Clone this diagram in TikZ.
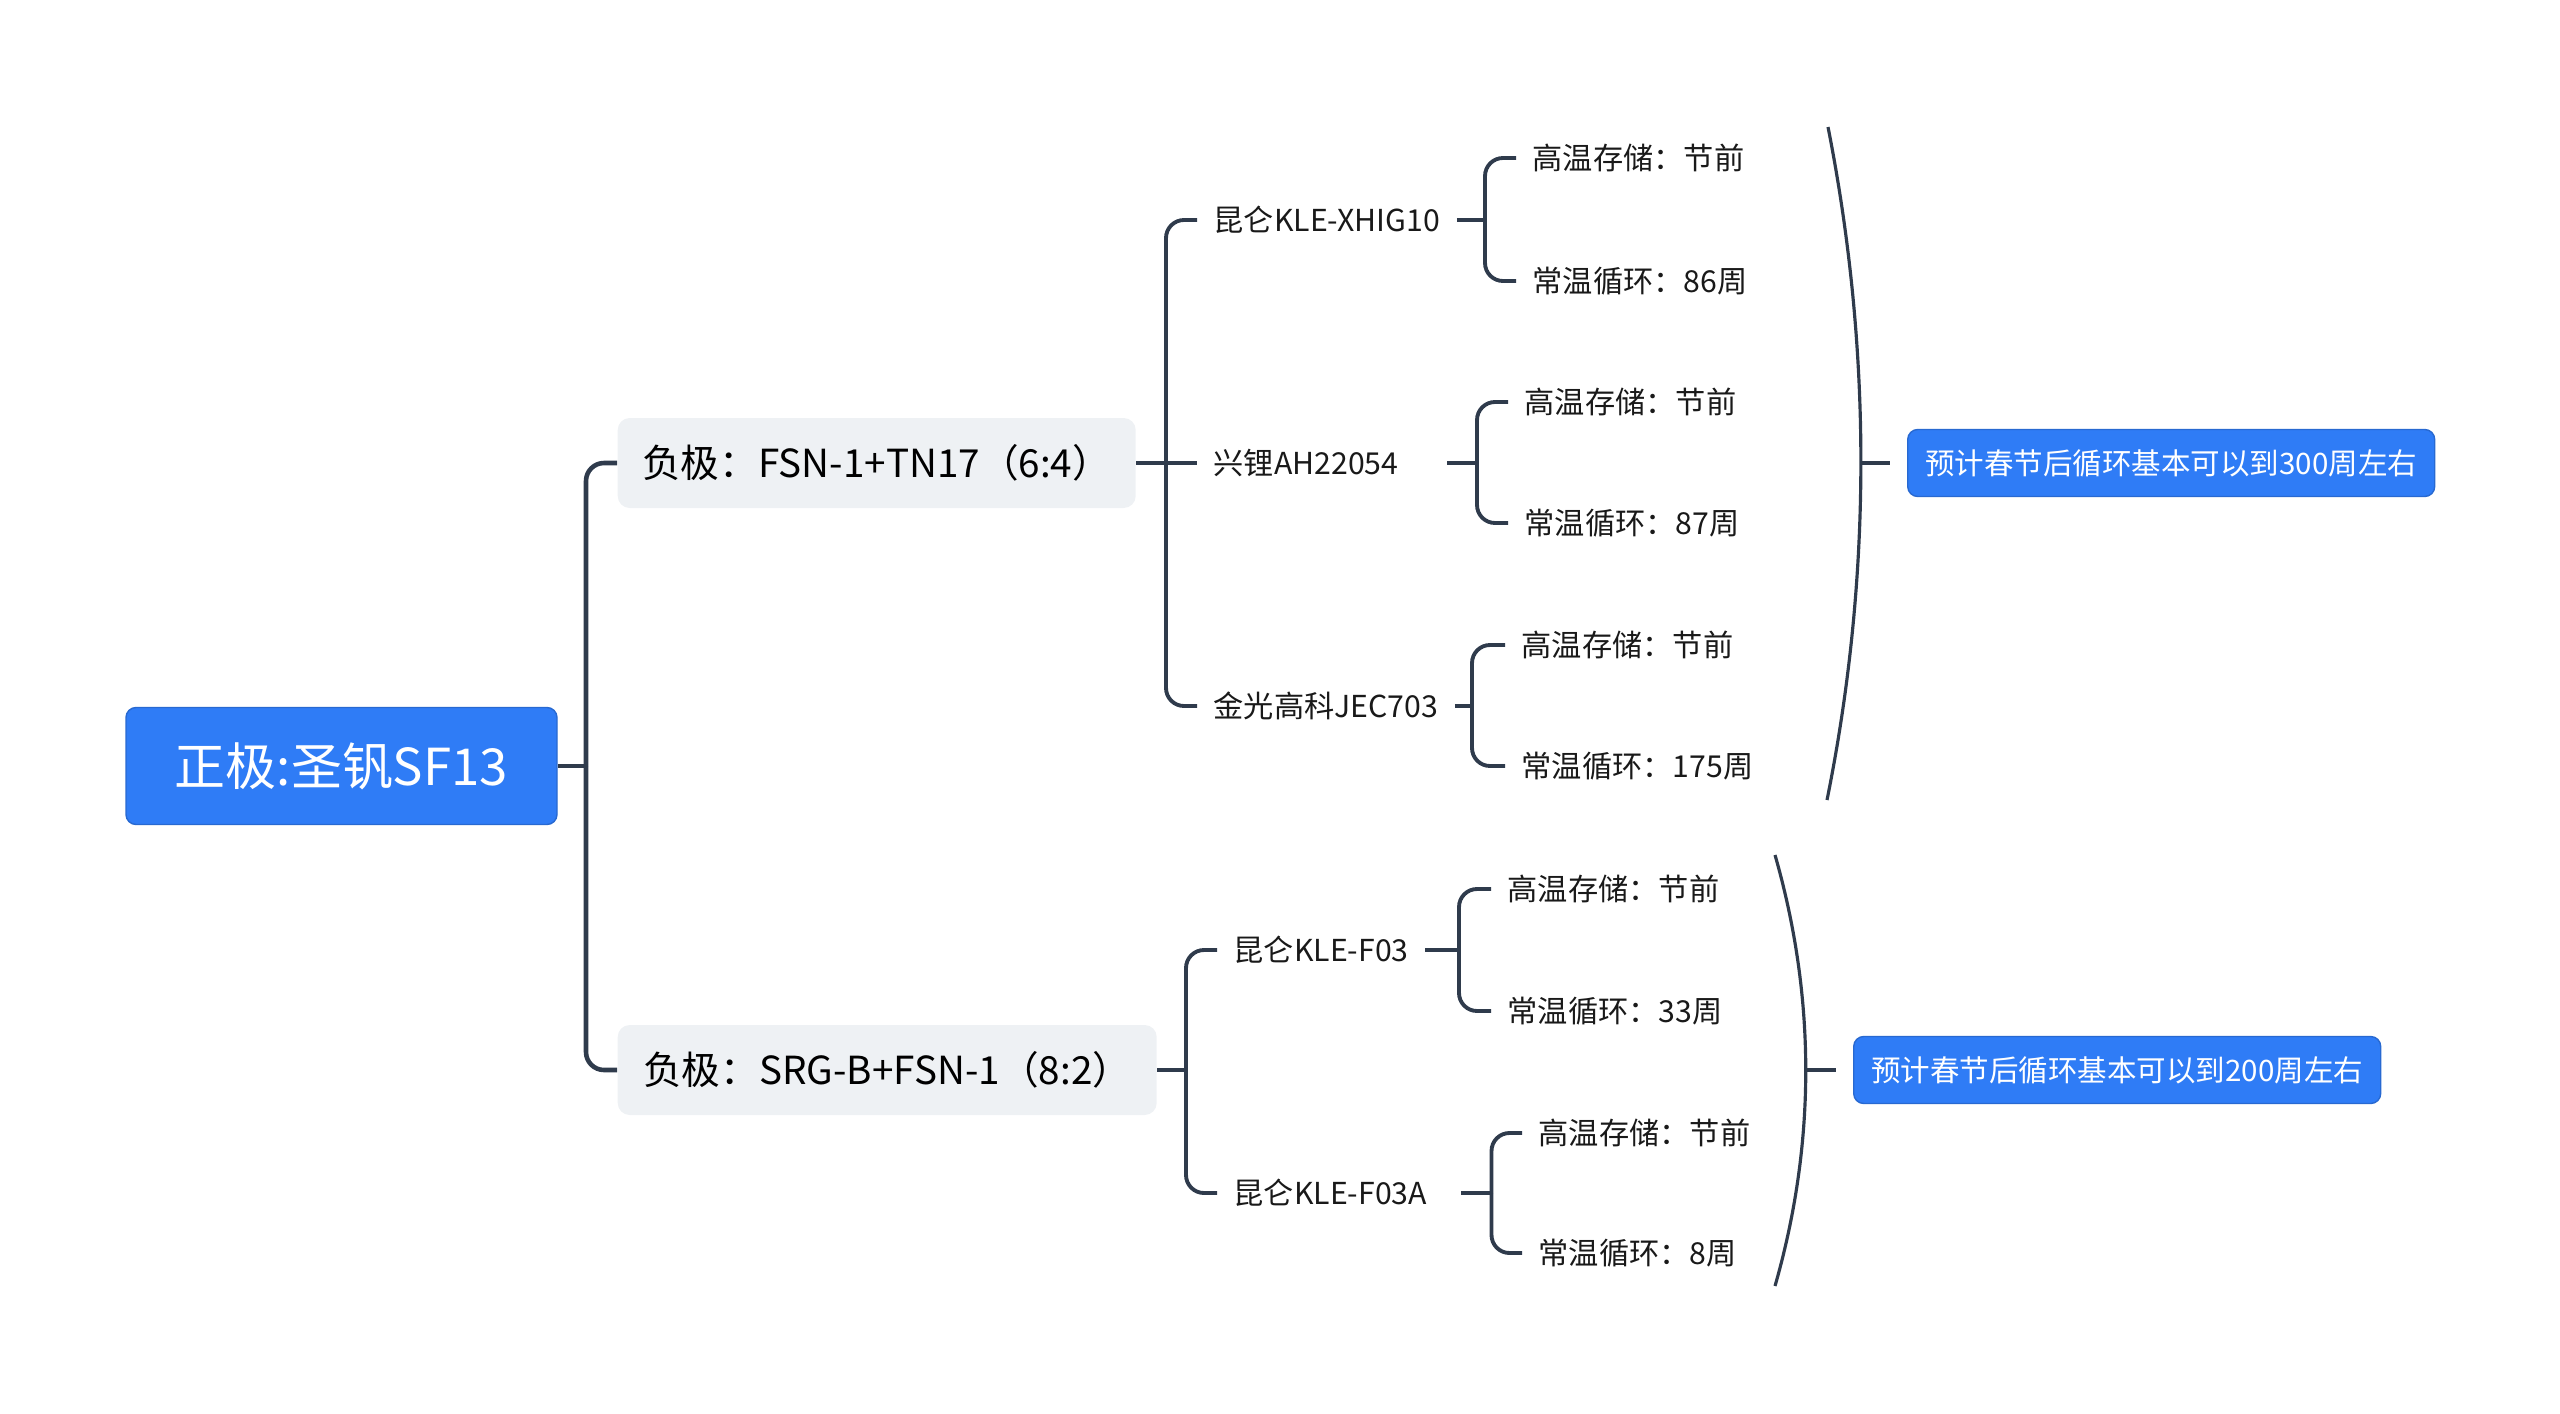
\documentclass[tikz,border=0pt]{standalone}
\usepackage{fontspec}
\setmainfont{Noto Sans CJK SC}
\usepackage{tikz}
\usepackage{xcolor}

\definecolor{mapblue}{HTML}{2F7CF6}
\definecolor{mapline}{HTML}{2F3B4C}
\definecolor{mapgray}{HTML}{EEF1F4}

\begin{document}
\begin{tikzpicture}[
    rootbox/.style={fill=mapblue, draw=mapblue!85!black, line width=0.4pt, rounded corners=0.1cm, text=white,
        minimum width=4.31cm, minimum height=1.17cm, font=\fontsize{14.5pt}{17pt}\selectfont},
    branchbox/.style={fill=mapgray, rounded corners=0.12cm, anchor=west, inner xsep=0.2cm,
        minimum height=0.9cm, font=\fontsize{11pt}{13pt}\selectfont},
    item/.style={anchor=west, inner xsep=0.16cm, inner ysep=0.05cm, text=black!90,
        font=\fontsize{8.6pt}{10pt}\selectfont},
    notebox/.style={fill=mapblue, draw=mapblue!85!black, line width=0.4pt, rounded corners=0.1cm, text=white,
        anchor=west, minimum width=5.27cm, minimum height=0.67cm, font=\fontsize{8.4pt}{10pt}\selectfont},
    thick line/.style={draw=mapline, line width=1.3pt, rounded corners=0.18cm},
    thin line/.style={draw=mapline, line width=1.1pt, rounded corners=0.18cm},
    brace line/.style={draw=mapline, line width=0.9pt}
]
    \useasboundingbox (0,0) rectangle (25.6,14.13);

    % nodes
    \node (root) [rootbox] at (3.415,6.47) {正极:圣钒SF13};
    \node (b1) [branchbox, minimum width=5.18cm] at (6.17,9.50) {负极：FSN-1+TN17（6:4）};
    \node (b2) [branchbox, minimum width=5.39cm] at (6.17,3.43) {负极：SRG-B+FSN-1（8:2）};

    \node (k1) [item] at (11.97,11.93) {昆仑KLE-XHIG10};
    \node (x1) [item, text width=2.17cm] at (11.97,9.50) {兴锂AH22054};
    \node (j1) [item] at (11.97,7.07) {金光高科JEC703};
    \node (f1) [item] at (12.17,4.63) {昆仑KLE-F03};
    \node (f2) [item, text width=2.11cm] at (12.17,2.20) {昆仑KLE-F03A};

    \node (k1a) [item] at (15.16,12.55) {高温存储：节前};
    \node (k1b) [item] at (15.16,11.32) {常温循环：86周};
    \node (x1a) [item] at (15.08,10.11) {高温存储：节前};
    \node (x1b) [item] at (15.08,8.90) {常温循环：87周};
    \node (j1a) [item] at (15.05,7.68) {高温存储：节前};
    \node (j1b) [item] at (15.05,6.47) {常温循环：175周};
    \node (f1a) [item] at (14.91,5.24) {高温存储：节前};
    \node (f1b) [item] at (14.91,4.02) {常温循环：33周};
    \node (f2a) [item] at (15.22,2.80) {高温存储：节前};
    \node (f2b) [item] at (15.22,1.60) {常温循环：8周};

    \node (n1) [notebox] at (19.07,9.50) {预计春节后循环基本可以到300周左右};
    \node (n2) [notebox] at (18.53,3.43) {预计春节后循环基本可以到200周左右};

    % spine points
    \coordinate (rs) at (5.86,6.47);
    \coordinate (s1) at (11.66,9.50);
    \coordinate (s2) at (11.86,3.43);
    \coordinate (sk1) at (14.85,11.93);
    \coordinate (sx1) at (14.77,9.50);
    \coordinate (sj1) at (14.72,7.07);
    \coordinate (sf1) at (14.59,4.63);
    \coordinate (sf2) at (14.915,2.20);

    % root to branches
    \draw[thick line] (root.east) -- (rs);
    \draw[thick line] (rs) |- (b1.west);
    \draw[thick line] (rs) |- (b2.west);

    % branch 1
    \draw[thin line] (b1.east) -- (s1);
    \draw[thin line] (s1) |- (k1.west);
    \draw[thin line] (s1) -- (x1.west);
    \draw[thin line] (s1) |- (j1.west);

    % branch 2
    \draw[thin line] (b2.east) -- (s2);
    \draw[thin line] (s2) |- (f1.west);
    \draw[thin line] (s2) |- (f2.west);

    % leaves
    \draw[thin line] (k1.east) -- (sk1);
    \draw[thin line] (sk1) |- (k1a.west);
    \draw[thin line] (sk1) |- (k1b.west);
    \draw[thin line] (x1.east) -- (sx1);
    \draw[thin line] (sx1) |- (x1a.west);
    \draw[thin line] (sx1) |- (x1b.west);
    \draw[thin line] (j1.east) -- (sj1);
    \draw[thin line] (sj1) |- (j1a.west);
    \draw[thin line] (sj1) |- (j1b.west);
    \draw[thin line] (f1.east) -- (sf1);
    \draw[thin line] (sf1) |- (f1a.west);
    \draw[thin line] (sf1) |- (f1b.west);
    \draw[thin line] (f2.east) -- (sf2);
    \draw[thin line] (sf2) |- (f2a.west);
    \draw[thin line] (sf2) |- (f2b.west);

    % summaries
    \coordinate (t1) at (18.61,9.50);
    \coordinate (t2) at (18.06,3.43);
    \draw[brace line] (18.28,12.86) .. controls (18.72,10.63) and (18.72,8.36) .. (18.27,6.13);
    \draw[brace line] (17.75,5.58) .. controls (18.16,4.15) and (18.16,2.70) .. (17.75,1.27);
    \draw[thin line, shorten >=0.17cm] (t1) -- (n1.west);
    \draw[thin line, shorten >=0.17cm] (t2) -- (n2.west);
\end{tikzpicture}
\end{document}
